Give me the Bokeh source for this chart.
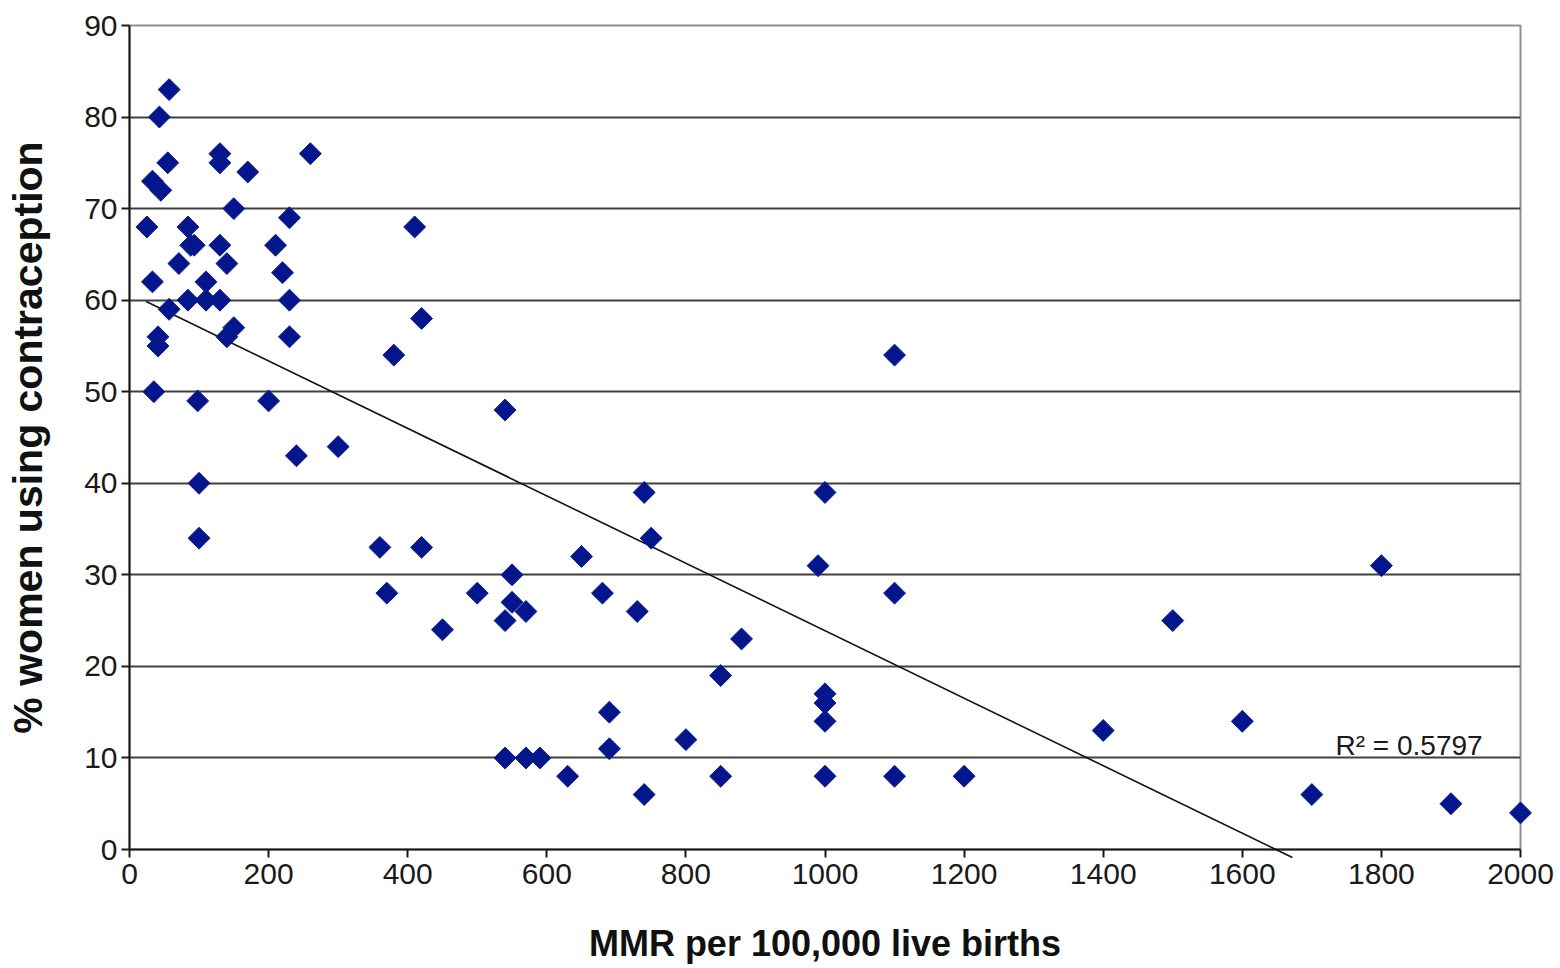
import numpy as np
from bokeh.plotting import figure
from bokeh.models import FixedTicker, Label, Range1d
from bokeh.embed import file_html
from bokeh.resources import INLINE

# ---- data ----
mmr = [57, 43, 130, 130, 260, 55, 33, 45, 170, 150, 230, 25, 84, 88, 93, 130,
       140, 210, 220, 71, 33, 110, 84, 110, 130, 230, 57, 150, 140, 41, 41, 230,
       35, 98, 200, 240, 300, 100, 100, 410, 420, 380, 540, 360, 420, 650, 550,
       370, 500, 680, 550, 570, 540, 450, 730, 740, 750, 880, 850, 690, 690, 800,
       540, 570, 590, 630, 850, 740, 1100, 1000, 990, 1100, 1000, 1000, 1000,
       1000, 1100, 1200, 1800, 1500, 1400, 1600, 1700, 1900, 2000]
contraception = [83, 80, 76, 75, 76, 75, 73, 72, 74, 70, 69, 68, 68, 66, 66, 66,
                 64, 66, 63, 64, 62, 62, 60, 60, 60, 60, 59, 57, 56, 56, 55, 56,
                 50, 49, 49, 43, 44, 40, 34, 68, 58, 54, 48, 33, 33, 32, 30,
                 28, 28, 28, 27, 26, 25, 24, 26, 39, 34, 23, 19, 15, 11, 12,
                 10, 10, 10, 8, 8, 6, 54, 39, 31, 28, 17, 16, 14,
                 8, 8, 8, 31, 25, 13, 14, 6, 5, 4]

x_ticks = list(range(0, 2001, 200))
y_ticks = list(range(0, 91, 10))

trend_x = [24, 1672]
trend_slope = -0.03684
trend_intercept = 60.73
r2_text = "R² = 0.5797"

x_label = "MMR per 100,000 live births"
y_label = "% women using contraception"

FONT = "Liberation Sans"

p = figure(width=1560, height=968, output_backend="svg", toolbar_location=None,
           x_range=Range1d(0, 2000), y_range=Range1d(0, 90),
           min_border_left=129, min_border_right=40,
           min_border_top=25, min_border_bottom=119,
           background_fill_color="white", border_fill_color="white")

p.outline_line_color = "#8f8f8f"
p.outline_line_width = 2

# grid
p.xgrid.grid_line_color = None
p.ygrid.grid_line_color = "#404040"
p.ygrid.grid_line_width = 2
p.ygrid.ticker = FixedTicker(ticks=y_ticks)

for ax in (p.xaxis[0], p.yaxis[0]):
    ax.axis_line_color = "#1a1a1a"
    ax.axis_line_width = 2
    ax.major_tick_line_color = "#1a1a1a"
    ax.major_tick_line_width = 2
    ax.major_tick_out = 8
    ax.major_tick_in = 0
    ax.minor_tick_line_color = None
    ax.major_label_text_font = FONT
    ax.major_label_text_font_size = "30px"
    ax.major_label_text_color = "#1a1a1a"
    ax.axis_label_text_font = FONT
    ax.axis_label_text_font_style = "bold"
    ax.axis_label_text_color = "#111111"

p.xaxis.ticker = FixedTicker(ticks=x_ticks)
p.yaxis.ticker = FixedTicker(ticks=y_ticks)
p.xaxis.axis_label = x_label
p.yaxis.axis_label = y_label
p.xaxis.axis_label_text_font_size = "36px"
p.yaxis.axis_label_text_font_size = "41px"
p.xaxis.major_label_standoff = 6
p.yaxis.major_label_standoff = 4
p.xaxis.axis_label_standoff = 36
p.yaxis.axis_label_standoff = 30

# trend line
tx = np.array(trend_x, dtype=float)
ty = trend_slope * tx + trend_intercept
p.line(tx, ty, line_color="#111111", line_width=1.6, level="overlay")

# points (diamonds)
p.scatter(mmr, contraception, marker="square", angle=np.pi / 4, size=15.5,
          fill_color="#05168c", line_color="#0b1f95", line_width=1,
          level="overlay")

p.add_layout(Label(x=1734, y=11.4, text=r2_text, text_font=FONT,
                   text_font_size="28px", text_color="#1a1a1a",
                   text_baseline="alphabetic"))

open("out.html", "w").write(file_html(p, INLINE))
